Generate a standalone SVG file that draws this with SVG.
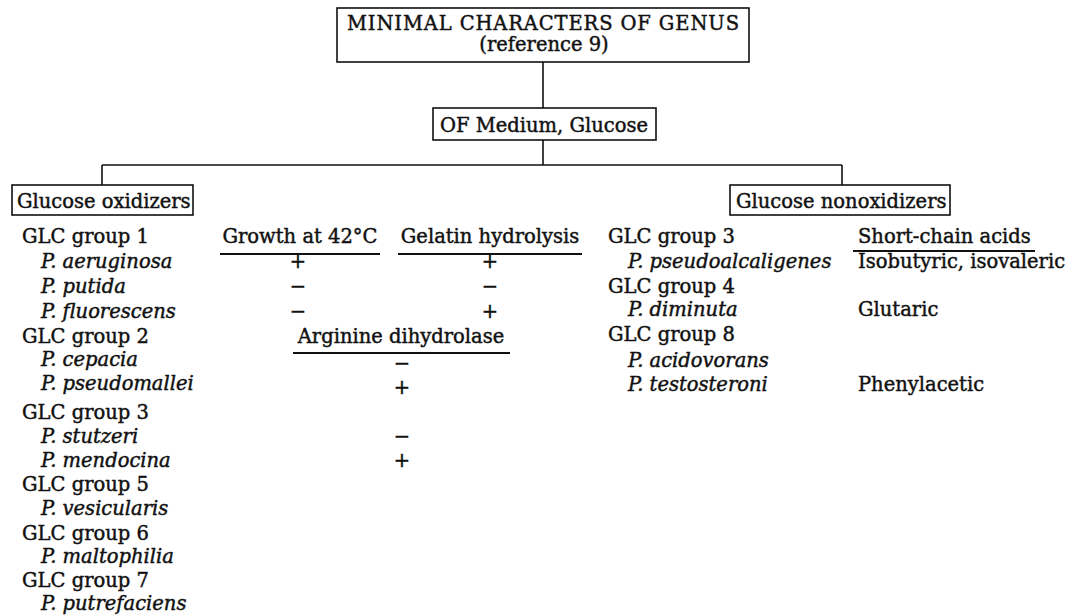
<svg xmlns="http://www.w3.org/2000/svg" width="1077" height="616" viewBox="0 0 1077 616">
<style>
text{font-family:"DejaVu Serif","Liberation Serif",serif;font-size:19.5px;fill:#111;stroke:#111;stroke-width:0.45}
.i{font-style:italic}
.m{text-anchor:middle}
.box{fill:#fff;stroke:#111;stroke-width:1.6}
.ln{stroke:#111;stroke-width:1.6;fill:none}
.ul{stroke:#111;stroke-width:2;fill:none}
</style>
<rect width="1077" height="616" fill="#fff"/>
<g id="connectors">
<path class="ln" d="M543 62V108M543 140V165M102 165H842M102 165V185M842 165V185"/>
</g>
<g id="root">
<rect class="box" x="337" y="8" width="412" height="54"/>
<text x="543" y="30" class="m" textLength="392" lengthAdjust="spacing">MINIMAL CHARACTERS OF GENUS</text>
<text x="544" y="51" class="m">(reference 9)</text>
</g>
<g id="of-medium">
<rect class="box" x="433" y="108" width="223" height="32"/>
<text x="544" y="132" class="m">OF Medium, Glucose</text>
</g>
<g id="oxidizers">
<rect class="box" x="12" y="185" width="181" height="30"/>
<text x="17" y="208">Glucose oxidizers</text>
</g>
<g id="nonoxidizers">
<rect class="box" x="730" y="185" width="220" height="30"/>
<text x="736" y="208">Glucose nonoxidizers</text>
</g>
<g id="oxidizer-list">
<text x="22" y="243">GLC group 1</text>
<text x="41" y="268" class="i">P. aeruginosa</text>
<text x="41" y="293" class="i">P. putida</text>
<text x="41" y="318" class="i">P. fluorescens</text>
<text x="22" y="343">GLC group 2</text>
<text x="41" y="366" class="i">P. cepacia</text>
<text x="41" y="390" class="i">P. pseudomallei</text>
<text x="22" y="419">GLC group 3</text>
<text x="41" y="443" class="i">P. stutzeri</text>
<text x="41" y="467" class="i">P. mendocina</text>
<text x="22" y="491">GLC group 5</text>
<text x="41" y="515" class="i">P. vesicularis</text>
<text x="22" y="540">GLC group 6</text>
<text x="41" y="563" class="i">P. maltophilia</text>
<text x="22" y="587">GLC group 7</text>
<text x="41" y="610" class="i">P. putrefaciens</text>
</g>
<g id="oxidizer-tests">
<text x="300" y="243" class="m">Growth at 42°C</text>
<path class="ul" d="M220 254H380M398 254H582M293 353H510"/>
<text x="490" y="243" class="m">Gelatin hydrolysis</text>
<text x="298" y="268" class="m">+</text>
<text x="298" y="293" class="m">−</text>
<text x="298" y="318" class="m">−</text>
<text x="490" y="268" class="m">+</text>
<text x="490" y="293" class="m">−</text>
<text x="490" y="318" class="m">+</text>
<text x="401" y="343" class="m">Arginine dihydrolase</text>
<text x="402" y="370" class="m">−</text>
<text x="402" y="394" class="m">+</text>
<text x="402" y="443" class="m">−</text>
<text x="402" y="467" class="m">+</text>
</g>
<g id="nonoxidizer-list">
<text x="608" y="243">GLC group 3</text>
<text x="628" y="268" class="i">P. pseudoalcaligenes</text>
<text x="608" y="293">GLC group 4</text>
<text x="628" y="316" class="i">P. diminuta</text>
<text x="608" y="341">GLC group 8</text>
<text x="628" y="367" class="i">P. acidovorans</text>
<text x="628" y="391" class="i">P. testosteroni</text>
</g>
<g id="acids">
<text x="858" y="243">Short-chain acids</text>
<path class="ul" d="M853 251H1035"/>
<text x="858" y="268">Isobutyric, isovaleric</text>
<text x="858" y="316">Glutaric</text>
<text x="858" y="391">Phenylacetic</text>
</g>
</svg>
